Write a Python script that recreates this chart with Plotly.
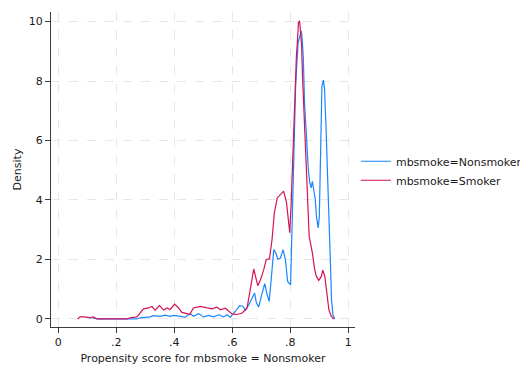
import plotly.graph_objects as go

# Kernel density of propensity score, by group
nonsmoker_x = [0.121, 0.123, 0.130, 0.137, 0.271, 0.282, 0.317, 0.328, 0.351, 0.369, 0.386, 0.397,
               0.421, 0.438, 0.455, 0.466, 0.484, 0.501, 0.518, 0.536, 0.553, 0.570, 0.582, 0.593,
               0.611, 0.625, 0.637, 0.645, 0.657, 0.672, 0.677, 0.683, 0.691, 0.700, 0.712, 0.720,
               0.727, 0.734, 0.743, 0.750, 0.757, 0.766, 0.775, 0.783, 0.791, 0.801, 0.805, 0.810,
               0.814, 0.818, 0.822, 0.827, 0.833, 0.838, 0.841, 0.845, 0.849, 0.856, 0.862, 0.867,
               0.872, 0.876, 0.881, 0.886, 0.890, 0.896, 0.900, 0.904, 0.909, 0.914, 0.918, 0.923,
               0.927, 0.933, 0.939, 0.942, 0.947, 0.953]
nonsmoker_y = [0.00, 0.03, 0.02, 0.00, 0.00, 0.04, 0.07, 0.11, 0.09, 0.13, 0.09, 0.12,
               0.09, 0.06, 0.18, 0.09, 0.18, 0.07, 0.12, 0.07, 0.14, 0.07, 0.14, 0.06,
               0.26, 0.45, 0.43, 0.29, 0.48, 0.82, 0.87, 0.54, 0.40, 0.76, 1.19, 0.82,
               0.59, 1.32, 2.33, 2.22, 2.00, 2.05, 2.33, 2.00, 1.25, 1.15, 2.78, 4.80,
               6.15, 7.72, 8.50, 9.29, 9.51, 9.68, 9.40, 8.73, 7.27, 6.04, 5.03, 4.58,
               4.41, 4.63, 4.35, 4.02, 3.45, 3.06, 3.45, 5.93, 7.83, 8.03, 7.72, 6.49,
               5.03, 3.45, 1.66, 0.65, 0.14, 0.00]

smoker_x = [0.067, 0.075, 0.092, 0.110, 0.120, 0.133, 0.236, 0.248, 0.271, 0.282, 0.294, 0.311,
            0.323, 0.334, 0.349, 0.363, 0.375, 0.386, 0.401, 0.415, 0.426, 0.444, 0.453, 0.466,
            0.490, 0.513, 0.530, 0.547, 0.559, 0.576, 0.587, 0.599, 0.616, 0.634, 0.651, 0.662,
            0.674, 0.680, 0.688, 0.697, 0.708, 0.717, 0.728, 0.737, 0.745, 0.755, 0.766, 0.777,
            0.787, 0.795, 0.798, 0.803, 0.810, 0.815, 0.821, 0.825, 0.828, 0.832, 0.835, 0.839,
            0.842, 0.847, 0.853, 0.860, 0.865, 0.876, 0.884, 0.890, 0.898, 0.907, 0.912, 0.919,
            0.925, 0.933, 0.941, 0.950]
smoker_y = [0.00, 0.07, 0.07, 0.04, 0.07, 0.00, 0.00, 0.04, 0.07, 0.20, 0.34, 0.37,
            0.42, 0.30, 0.45, 0.30, 0.37, 0.32, 0.50, 0.37, 0.22, 0.18, 0.15, 0.37,
            0.42, 0.37, 0.34, 0.40, 0.31, 0.36, 0.26, 0.17, 0.15, 0.20, 0.37, 0.99,
            1.68, 1.43, 1.12, 1.32, 1.64, 2.00, 2.02, 2.67, 3.57, 4.07, 4.18, 4.30,
            3.90, 3.00, 2.90, 3.90, 5.70, 7.60, 8.84, 9.40, 9.97, 10.02, 9.57, 9.18,
            8.17, 7.05, 5.36, 3.68, 2.78, 2.22, 1.66, 1.43, 1.30, 1.43, 1.64, 1.43,
            0.87, 0.31, 0.09, 0.00]

series_names = ["mbsmoke=Nonsmoker", "mbsmoke=Smoker"]
x_ticks = [0, 0.2, 0.4, 0.6, 0.8, 1]
x_tick_labels = ["0", ".2", ".4", ".6", ".8", "1"]
y_ticks = [0, 2, 4, 6, 8, 10]

FONT = "DejaVu Sans"
AXIS_COLOR = "#3c3c3c"
GRID_COLOR = "#e6e6e6"

fig = go.Figure()
fig.add_trace(go.Scatter(x=nonsmoker_x, y=nonsmoker_y, mode="lines", name=series_names[0],
                         line=dict(color="#1a85ff", width=1.2)))
fig.add_trace(go.Scatter(x=smoker_x, y=smoker_y, mode="lines", name=series_names[1],
                         line=dict(color="#d41159", width=1.2)))

# page body has an 8px default margin, so the figure is offset by 8px
fig.update_layout(
    width=528, height=384,
    margin=dict(l=43, r=181, t=4, b=65, autoexpand=False),
    paper_bgcolor="white", plot_bgcolor="white",
    font=dict(family=FONT, size=11, color="#1a1a1a"),
    showlegend=True,
    legend=dict(x=1.003, y=0.496, xanchor="left", yanchor="middle",
                font=dict(family=FONT, size=11, color="#1a1a1a"),
                itemwidth=30, tracegroupgap=0, bgcolor="rgba(0,0,0,0)"),
    xaxis=dict(range=[-0.025, 1.023], tickvals=x_ticks, ticktext=x_tick_labels,
               automargin=False,
               showline=True, linecolor=AXIS_COLOR, linewidth=1,
               ticks="outside", ticklen=5, tickcolor=AXIS_COLOR, tickwidth=1,
               showgrid=True, gridcolor=GRID_COLOR, griddash="dash", gridwidth=1,
               zeroline=False,
               title=dict(text="Propensity score for mbsmoke = Nonsmoker", standoff=6,
                          font=dict(size=11))),
    yaxis=dict(range=[-0.27, 10.32], tickvals=y_ticks,
               automargin=False,
               showline=True, linecolor=AXIS_COLOR, linewidth=1,
               ticks="outside", ticklen=5, tickcolor=AXIS_COLOR, tickwidth=1,
               showgrid=True, gridcolor=GRID_COLOR, griddash="dash", gridwidth=1,
               zeroline=False,
               title=dict(text="Density", standoff=4, font=dict(size=11))),
)

fig.write_html("out.html")
